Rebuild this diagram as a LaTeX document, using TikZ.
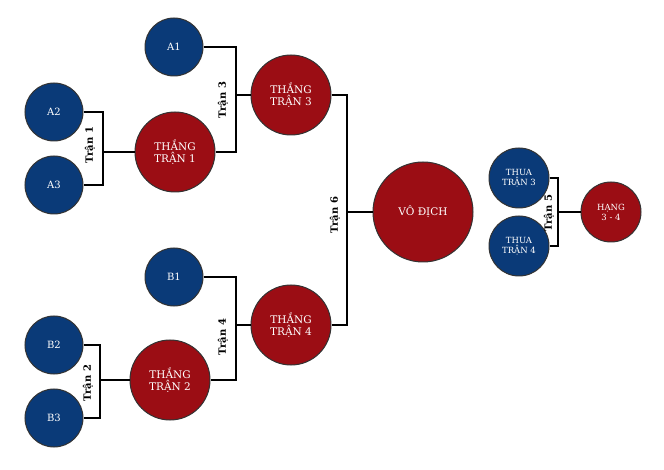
\documentclass[tikz,border=0pt]{standalone}
\usepackage{fontspec}
\setmainfont{DejaVu Serif}
\begin{document}
\begin{tikzpicture}[x=1pt,y=-1pt,
  bl/.style={circle,draw=black!80,line width=1pt,fill=blue1,text=white,minimum size=58pt,inner sep=0pt,font=\fontsize{10}{11}\selectfont,align=center},
  rd/.style={circle,draw=black!80,line width=1pt,fill=red1,text=white,minimum size=80pt,inner sep=0pt,font=\fontsize{10.5}{12}\selectfont,align=center},
  sm/.style={minimum size=60pt,font=\fontsize{8.5}{10}\selectfont},
  ln/.style={line width=1.6pt,black},
  lb/.style={rotate=90,font=\bfseries\fontsize{10}{11}\selectfont,inner sep=1pt}]
\definecolor{blue1}{HTML}{0A3A78}
\definecolor{red1}{HTML}{9B0D14}
\useasboundingbox (0,0) rectangle (664,470);
% lines first
\coordinate (j1) at (103,152); \coordinate (j3) at (236,95);
\coordinate (j6) at (347,212); \coordinate (j4) at (236,325);
\coordinate (j2) at (100,380); \coordinate (j5) at (558,212);
\node[bl] (A1) at (174,47) {A1};
\node[bl] (A2) at (54,112) {A2};
\node[bl] (A3) at (54,185) {A3};
\node[rd] (W1) at (175,152) {THẮNG\\TRẬN 1};
\node[rd] (W3) at (291,95) {THẮNG\\TRẬN 3};
\node[bl] (B1) at (174,277) {B1};
\node[bl] (B2) at (54,345) {B2};
\node[bl] (B3) at (54,418) {B3};
\node[rd] (W2) at (170,380) {THẮNG\\TRẬN 2};
\node[rd] (W4) at (291,325) {THẮNG\\TRẬN 4};
\node[rd,minimum size=100pt] (V) at (423,212) {VÔ ĐỊCH};
\node[bl,sm] (L3) at (519,178) {THUA\\TRẬN 3};
\node[bl,sm] (L4) at (519,246) {THUA\\TRẬN 4};
\node[rd,sm] (H) at (611,212) {HẠNG\\3 - 4};
\draw[ln] (A2.east) -| (j1) |- (A3.east);
\draw[ln] (j1) -- (W1.west);
\draw[ln] (A1.east) -| (j3) |- (W1.east);
\draw[ln] (j3) -- (W3.west);
\draw[ln] (B2.east) -| (j2) |- (B3.east);
\draw[ln] (j2) -- (W2.west);
\draw[ln] (B1.east) -| (j4) |- (W2.east);
\draw[ln] (j4) -- (W4.west);
\draw[ln] (W3.east) -| (j6) |- (W4.east);
\draw[ln] (j6) -- (V.west);
\draw[ln] (L3.east) -| (j5) |- (L4.east);
\draw[ln] (j5) -- (H.west);
\node[lb] at (90,145) {Trận 1};
\node[lb] at (223,100) {Trận 3};
\node[lb] at (88,383) {Trận 2};
\node[lb] at (223,337) {Trận 4};
\node[lb] at (335,215) {Trận 6};
\node[lb] at (549,213) {Trận 5};
\end{tikzpicture}
\end{document}
